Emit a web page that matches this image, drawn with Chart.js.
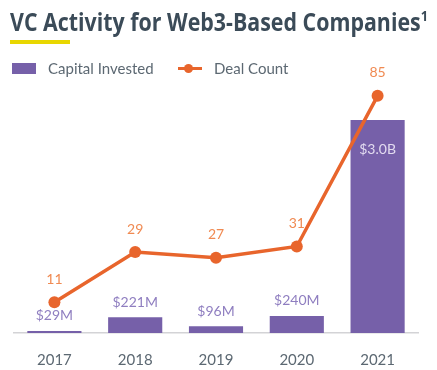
<!DOCTYPE html>
<html>
<head>
<meta charset="utf-8">
<script src="https://cdn.jsdelivr.net/npm/chart.js@4.4.1/dist/chart.umd.min.js"></script>
<style>
    body { margin: 0; background: #ffffff; }
    #wrap { position: relative; width: 437px; height: 370px; overflow: hidden; }
    #titulo {
        position: absolute; left: 10px; top: 4px;
        font-family: "Open Sans", sans-serif; font-weight: 700; font-size: 25px;
        color: #3b4b58; white-space: nowrap; transform-origin: 0 0;
    }
    #titulo sup { font-size: 15px; vertical-align: 10px; }
    #raya { position: absolute; left: 10px; top: 40px; width: 60px; height: 4px; background: #e8d700; }
    .leyenda {
        position: absolute; top: 59px; font-family: "Lato", sans-serif; font-size: 15px;
        color: #5c6872; white-space: nowrap;
    }
    #cajaBar { position: absolute; left: 12px; top: 63px; width: 24px; height: 11px; background: #7660a9; }
    #lineaLey { position: absolute; left: 178px; top: 67px; width: 24px; height: 3px; background: #e8652c; }
    #puntoLey { position: absolute; left: 184px; top: 64px; width: 9px; height: 9px; border-radius: 50%; background: #e8652c; }
    canvas { position: absolute; left: 0; top: 0; }
</style>
</head>
<body>
<div id="wrap">
    <canvas id="grafica" width="437" height="370"></canvas>
    <div id="titulo">VC Activity for Web3-Based Companies<sup>1</sup></div>
    <div id="raya"></div>
    <div id="cajaBar"></div>
    <div class="leyenda" style="left:48px">Capital Invested</div>
    <div id="lineaLey"></div>
    <div id="puntoLey"></div>
    <div class="leyenda" style="left:214px">Deal Count</div>
</div>
<script>
// datos del grafico
var anios = ["2017", "2018", "2019", "2020", "2021"];
var capital = [29, 221, 96, 240, 3000];          // millones
var capitalTexto = ["$29M", "$221M", "$96M", "$240M", "$3.0B"];
var deals = [11, 29, 27, 31, 85];

// ajustar el ancho del titulo
var titulo = document.getElementById("titulo");
var ancho = titulo.getBoundingClientRect().width;
titulo.style.transform = "scaleX(" + (418 / ancho) + ")";

// etiquetas encima de barras y puntos
var etiquetas = {
    id: "etiquetas",
    afterDatasetsDraw: function(chart) {
        var ctx = chart.ctx;
        ctx.save();
        ctx.textAlign = "center";
        ctx.textBaseline = "middle";
        ctx.font = "14px Lato";
        var barras = chart.getDatasetMeta(1).data;
        for (var i = 0; i < barras.length; i++) {
            if (i === barras.length - 1) {
                ctx.fillStyle = "#e2dbf0";
                ctx.fillText(capitalTexto[i], barras[i].x, barras[i].y + 29);
            } else {
                ctx.fillStyle = "#8f7ec0";
                ctx.fillText(capitalTexto[i], barras[i].x, barras[i].y - 15);
            }
        }
        var puntos = chart.getDatasetMeta(0).data;
        ctx.fillStyle = "#f08a52";
        for (var j = 0; j < puntos.length; j++) {
            ctx.fillText(String(deals[j]), puntos[j].x, puntos[j].y - 23);
        }
        ctx.restore();
    }
};

new Chart(document.getElementById("grafica"), {
    type: "bar",
    data: {
        labels: anios,
        datasets: [
            {
                type: "line",
                label: "Deal Count",
                data: deals,
                yAxisID: "yDeals",
                borderColor: "#e8652c",
                backgroundColor: "#e8652c",
                borderWidth: 3.5,
                pointRadius: 6,
                pointBorderWidth: 0,
                pointHoverRadius: 6,
                tension: 0,
                order: 0
            },
            {
                label: "Capital Invested",
                data: capital,
                yAxisID: "yCapital",
                backgroundColor: "#7660a9",
                barPercentage: 0.67,
                categoryPercentage: 1,
                order: 1
            }
        ]
    },
    options: {
        responsive: false,
        animation: false,
        layout: { padding: { left: 14, right: 19, top: 54, bottom: 0 } },
        plugins: {
            legend: { display: false },
            tooltip: { enabled: false },
            title: { display: false }
        },
        scales: {
            x: {
                grid: { display: false },
                border: { display: true, color: "#d3d3d6", width: 1.5 },
                ticks: { color: "#5c6872", font: { family: "Lato", size: 15 }, padding: 10 },
                afterFit: function(s) { s.height = 37; }
            },
            yCapital: { display: false, min: 0, max: 3930 },
            yDeals: { display: false, min: 0, max: 100 }
        }
    },
    plugins: [etiquetas]
});
</script>
</body>
</html>
